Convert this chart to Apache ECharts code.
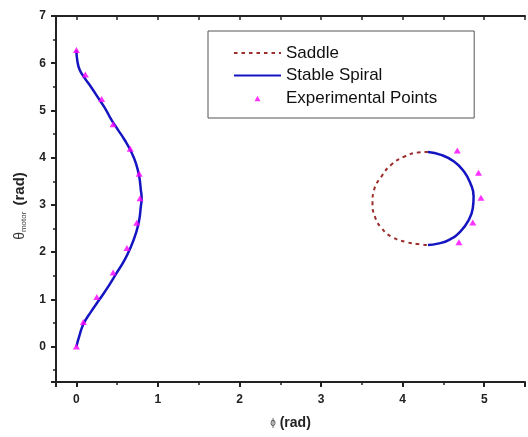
<!DOCTYPE html>
<html>
<head>
<meta charset="utf-8">
<script src="https://cdn.jsdelivr.net/npm/echarts@6/dist/echarts.min.js"></script>
<style>html,body{margin:0;padding:0;background:#fff}#c{width:528px;height:437px}</style>
</head>
<body>
<div id="c"></div>
<script>
// Stable spiral, left branch: [phi, theta]
const spiralLeft = [
  [0.0,0.0],[0.04,0.25],[0.09,0.49],[0.18,0.74],[0.28,0.99],[0.39,1.27],[0.49,1.55],
  [0.59,1.83],[0.67,2.12],[0.73,2.40],[0.77,2.68],[0.79,2.97],[0.80,3.14],[0.79,3.32],
  [0.77,3.60],[0.73,3.88],[0.67,4.13],[0.59,4.38],[0.51,4.59],[0.43,4.80],[0.35,5.05],
  [0.27,5.26],[0.19,5.47],[0.10,5.69],[0.04,5.86],[0.01,6.07],[0.0,6.28]
];
// Stable spiral, right arc (around phi ~ 4.3)
const spiralRight = [
  [4.31,4.12],[4.47,4.06],[4.63,3.92],[4.75,3.71],[4.83,3.46],[4.87,3.18],[4.86,2.93],
  [4.81,2.68],[4.71,2.44],[4.57,2.26],[4.43,2.18],[4.31,2.15]
];
// Saddle (dashed), left arc
const saddle = [
  [4.31,4.12],[4.19,4.11],[4.03,4.03],[3.86,3.85],[3.74,3.60],[3.65,3.32],[3.63,3.04],
  [3.66,2.75],[3.74,2.51],[3.86,2.33],[4.03,2.22],[4.19,2.17],[4.31,2.15]
];
// Experimental points
const experimental = [
  [0.0,0.0],[0.085,0.52],[0.25,1.05],[0.45,1.57],[0.62,2.09],[0.74,2.62],[0.78,3.14],
  [0.77,3.66],[0.66,4.19],[0.45,4.71],[0.31,5.24],[0.11,5.76],[0.0,6.28],
  [4.67,4.15],[4.93,3.68],[4.96,3.15],[4.86,2.63],[4.69,2.21]
];
const xRange = [-0.25, 5.5];
const yRange = [-0.75, 7];

const FONT = 'Liberation Sans, Arial, sans-serif';
const AX = '#222';
const intLabel = v => (Math.abs(v - Math.round(v)) < 1e-9 ? String(Math.round(v)) : '');
// small centred triangle inside a 47x7 legend icon box
const TRI_ICON = 'path://M0,7L0.01,7L0,7.01Z M47,0.5L47.01,0.5L47,0.51Z M20.5,7L23.5,1.5L26.5,7Z';

const chart = echarts.init(document.getElementById('c'), null, {renderer: 'canvas'});
chart.setOption({
  animation: false,
  backgroundColor: '#fff',
  grid: {left: 56, right: -4, top: 16, bottom: 55},
  legend: {
    orient: 'vertical', left: 208, top: 31,
    padding: [13, 37, 11, 25],
    borderColor: '#555', borderWidth: 1,
    itemWidth: 47, itemHeight: 7, itemGap: 4.5,
    textStyle: {fontFamily: FONT, fontSize: 17, color: '#111', lineHeight: 18},
    data: [
      {name: 'Saddle', itemStyle: {opacity: 0}},
      {name: 'Stable Spiral', itemStyle: {opacity: 0}},
      {name: 'Experimental Points', icon: TRI_ICON}
    ]
  },
  xAxis: [
    {
      type: 'value', position: 'bottom', min: xRange[0], max: xRange[1],
      minInterval: 1, maxInterval: 1, splitNumber: 6,
      name: '{p|ϕ} (rad)', nameLocation: 'middle', nameGap: 34,
      nameTextStyle: {fontFamily: FONT, fontSize: 14, fontWeight: 'bold', color: '#222',
        rich: {p: {fontFamily: FONT, fontSize: 10, color: '#444', fontWeight: 'normal'}}},
      axisLine: {onZero: false, lineStyle: {color: AX, width: 2}},
      axisTick: {inside: false, length: 5, lineStyle: {color: AX, width: 2}},
      axisLabel: {margin: 12, fontFamily: FONT, fontSize: 12, fontWeight: 'bold', color: '#222', formatter: intLabel},
      splitLine: {show: false}
    },
    {
      type: 'value', position: 'bottom', min: xRange[0], max: xRange[1],
      minInterval: 0.5, maxInterval: 0.5, splitNumber: 12,
      axisLine: {show: false, onZero: false},
      axisTick: {inside: false, length: 3, lineStyle: {color: AX, width: 1.5}},
      axisLabel: {show: false}, splitLine: {show: false}
    },
    {
      type: 'value', position: 'top', min: xRange[0], max: xRange[1],
      minInterval: 0.5, maxInterval: 0.5, splitNumber: 12,
      axisLine: {onZero: false, lineStyle: {color: AX, width: 2}},
      axisTick: {inside: true, length: 4, lineStyle: {color: AX, width: 1.5}},
      axisLabel: {show: false}, splitLine: {show: false}
    }
  ],
  yAxis: [
    {
      type: 'value', position: 'left', min: yRange[0], max: yRange[1],
      minInterval: 1, maxInterval: 1, splitNumber: 8,
      name: '{t|θ}{s|motor} (rad)', nameLocation: 'middle', nameGap: 28, nameRotate: 90,
      nameTextStyle: {fontFamily: FONT, fontSize: 15, fontWeight: 'bold', color: '#222',
        padding: [0, 14, 0, 0],
        rich: {
          t: {fontFamily: FONT, fontSize: 14, color: '#333', fontWeight: 'normal'},
          s: {fontFamily: FONT, fontSize: 8, color: '#444', fontWeight: 'normal', verticalAlign: 'bottom', padding: [8, 2, 0, 0]}
        }},
      axisLine: {onZero: false, lineStyle: {color: AX, width: 2}},
      axisTick: {inside: false, length: 5, lineStyle: {color: AX, width: 2}},
      axisLabel: {margin: 10, fontFamily: FONT, fontSize: 12, fontWeight: 'bold', color: '#222', formatter: intLabel},
      splitLine: {show: false}
    },
    {
      type: 'value', position: 'left', min: yRange[0], max: yRange[1],
      minInterval: 0.5, maxInterval: 0.5, splitNumber: 16,
      axisLine: {show: false, onZero: false},
      axisTick: {inside: false, length: 3, lineStyle: {color: AX, width: 1.5}},
      axisLabel: {show: false}, splitLine: {show: false}
    }
  ],
  series: [
    {
      name: 'Saddle', type: 'line', data: saddle, xAxisIndex: 0, yAxisIndex: 0,
      symbol: 'none', smooth: true,
      lineStyle: {color: '#9b2d2d', width: 2, type: [3.5, 4]},
      itemStyle: {color: '#9b2d2d'}, z: 2
    },
    {
      name: 'Stable Spiral', type: 'line', data: spiralLeft, xAxisIndex: 0, yAxisIndex: 0,
      symbol: 'none', smooth: true,
      lineStyle: {color: '#1414c0', width: 2.5},
      itemStyle: {color: '#1414c0'}, z: 2
    },
    {
      name: 'Stable Spiral', type: 'line', data: spiralRight, xAxisIndex: 0, yAxisIndex: 0,
      symbol: 'none', smooth: true,
      lineStyle: {color: '#1414c0', width: 2.5},
      itemStyle: {color: '#1414c0'}, z: 2
    },
    {
      name: 'Experimental Points', type: 'scatter', data: experimental, xAxisIndex: 0, yAxisIndex: 0,
      symbol: 'triangle', symbolSize: [7, 6],
      itemStyle: {color: '#ff00ff'}, z: 3
    }
  ]
});
</script>
</body>
</html>
